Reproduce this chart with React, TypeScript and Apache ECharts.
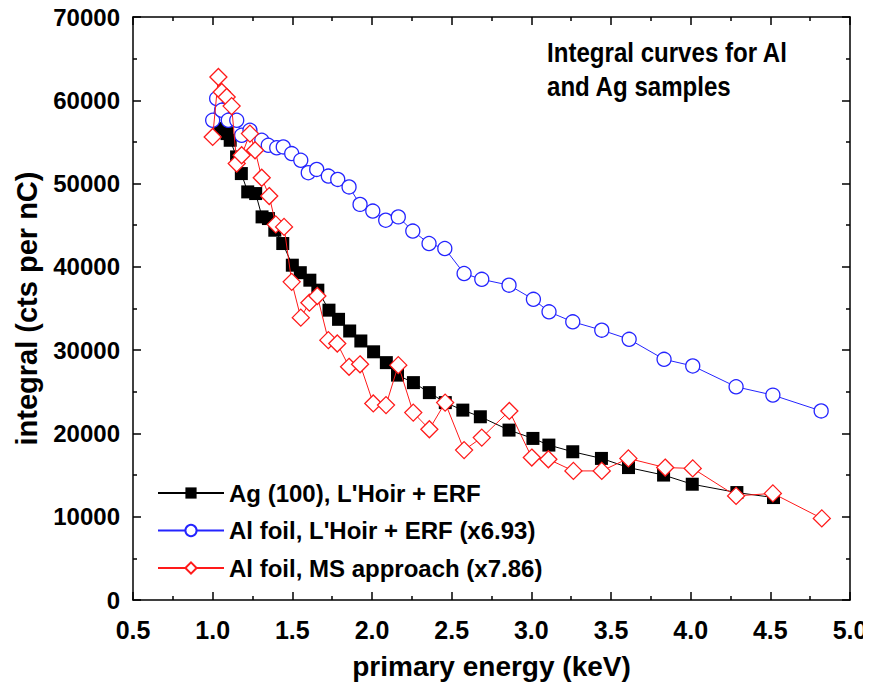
import React, { useEffect, useRef } from "react";
import * as echarts from "echarts";

const agX = [1.05, 1.09, 1.11, 1.15, 1.18, 1.22, 1.27, 1.31, 1.35, 1.39, 1.44, 1.50, 1.55, 1.61, 1.66, 1.73, 1.79, 1.86, 1.93, 2.01, 2.09, 2.16, 2.26, 2.36, 2.46, 2.57, 2.68, 2.86, 3.01, 3.11, 3.26, 3.44, 3.61, 3.83, 4.01, 4.29, 4.52];
const agY = [56600, 56000, 55200, 53200, 51200, 49000, 48800, 46000, 45800, 44400, 42800, 40200, 39300, 38400, 37200, 34800, 33700, 32300, 31100, 29800, 28500, 27000, 26100, 24900, 23700, 22800, 22000, 20400, 19400, 18600, 17800, 17000, 15900, 15000, 13900, 12900, 12300];

const alLX = [1.00, 1.025, 1.057, 1.098, 1.151, 1.182, 1.234, 1.308, 1.349, 1.402, 1.443, 1.496, 1.553, 1.600, 1.653, 1.726, 1.785, 1.856, 1.925, 2.005, 2.086, 2.165, 2.256, 2.358, 2.457, 2.578, 2.689, 2.860, 3.013, 3.111, 3.26, 3.442, 3.614, 3.833, 4.013, 4.285, 4.516, 4.819];
const alLY = [57600, 60200, 58800, 57600, 57600, 55800, 56400, 55200, 54600, 54300, 54400, 53600, 52800, 51300, 51700, 50900, 50500, 49600, 47500, 46700, 45600, 46000, 44300, 42800, 42200, 39200, 38500, 37800, 36100, 34600, 33400, 32400, 31300, 28900, 28100, 25600, 24600, 22700];

const alMX = [1.00, 1.036, 1.057, 1.088, 1.119, 1.151, 1.182, 1.234, 1.266, 1.308, 1.355, 1.396, 1.448, 1.496, 1.553, 1.607, 1.657, 1.726, 1.782, 1.856, 1.925, 2.008, 2.088, 2.165, 2.259, 2.360, 2.459, 2.578, 2.689, 2.862, 3.003, 3.107, 3.264, 3.442, 3.609, 3.840, 4.013, 4.285, 4.516, 4.823];
const alMY = [55600, 62800, 61000, 60400, 59300, 52400, 53400, 56000, 54000, 50700, 48500, 45100, 44800, 38200, 33900, 35700, 36500, 31200, 30800, 28000, 28300, 23600, 23400, 28200, 22500, 20500, 23700, 18000, 19500, 22700, 17100, 16900, 15500, 15500, 17000, 15900, 15800, 12500, 12800, 9800];

const seriesNames = [
  "Ag (100), L'Hoir + ERF",
  "Al foil, L'Hoir + ERF (x6.93)",
  "Al foil, MS approach (x7.86)",
];
const titleLines = ["Integral curves for Al", "and Ag samples"];
const xName = "primary energy (keV)";
const yName = "integral (cts per nC)";

const FONT = "'Liberation Sans', Arial, sans-serif";

function zip(xs: number[], ys: number[]) {
  return xs.map((x, i) => [x, ys[i]]);
}

export default function App() {
  const ref = useRef<HTMLDivElement>(null);
  useEffect(() => {
    if (!ref.current) return;
    const chart = echarts.init(ref.current, null, { renderer: "svg" });
    const axisLine = { show: true, onZero: false, lineStyle: { color: "#000", width: 1.5 } };
    const axisTick = { show: true, inside: true, length: 8, lineStyle: { color: "#000", width: 1.5 } };
    const minorTick = { show: true, splitNumber: 2, length: 4, lineStyle: { color: "#000", width: 1.5 } };
    const xBase = { type: "value", min: 0.5, max: 5.0, interval: 0.5, axisLine, axisTick, minorTick, splitLine: { show: false } };
    const yBase = { type: "value", min: 0, max: 70000, interval: 10000, axisLine, axisTick, minorTick, splitLine: { show: false } };
    chart.setOption({
      animation: false,
      backgroundColor: "#fff",
      textStyle: { fontFamily: FONT },
      grid: { left: 133, right: 21, top: 17, bottom: 91, containLabel: false },
      xAxis: [
        {
          ...xBase,
          position: "bottom",
          name: xName,
          nameLocation: "middle",
          nameGap: 52,
          nameTextStyle: { fontFamily: FONT, fontWeight: "bold", fontSize: 28, color: "#000" },
          axisLabel: {
            margin: 17,
            fontFamily: FONT,
            fontWeight: "bold",
            fontSize: 25,
            color: "#000",
            formatter: (v: number) => v.toFixed(1),
          },
        },
        { ...xBase, position: "top", axisLabel: { show: false } },
      ],
      yAxis: [
        {
          ...yBase,
          position: "left",
          name: yName,
          nameLocation: "middle",
          nameGap: 92,
          nameTextStyle: { fontFamily: FONT, fontWeight: "bold", fontSize: 29, color: "#000" },
          axisLabel: {
            margin: 13,
            fontFamily: FONT,
            fontWeight: "bold",
            fontSize: 24,
            color: "#000",
            formatter: (v: number) => String(v),
          },
        },
        { ...yBase, position: "right", axisLabel: { show: false } },
      ],
      legend: {
        orient: "vertical",
        left: 157,
        top: 481,
        padding: 0,
        itemWidth: 66,
        itemHeight: 14,
        itemGap: 13.5,
        textStyle: { fontFamily: FONT, fontWeight: "bold", fontSize: 24, color: "#000" },
        data: seriesNames,
      },
      graphic: [
        {
          type: "text",
          x: 547,
          y: 35,
          scaleX: 0.86,
          style: {
            text: titleLines.join("\n"),
            font: `bold 28px ${FONT}`,
            fill: "#000",
            lineHeight: 34,
          },
        },
      ],
      series: [
        {
          name: seriesNames[0],
          type: "line",
          data: zip(agX, agY),
          symbol: "rect",
          symbolSize: 13,
          itemStyle: { color: "#000" },
          lineStyle: { color: "#000", width: 1 },
          z: 2,
        },
        {
          name: seriesNames[1],
          type: "line",
          data: zip(alLX, alLY),
          symbol: "circle",
          symbolSize: 14,
          itemStyle: { color: "#fff", borderColor: "#2424ff", borderWidth: 1.3 },
          lineStyle: { color: "#2424ff", width: 1 },
          z: 3,
        },
        {
          name: seriesNames[2],
          type: "line",
          data: zip(alMX, alMY),
          symbol: "diamond",
          symbolSize: 17,
          itemStyle: { color: "#fff", borderColor: "#ff1a1a", borderWidth: 1.3 },
          lineStyle: { color: "#ff1a1a", width: 1 },
          z: 4,
        },
      ],
    });
    return () => chart.dispose();
  }, []);
  return <div ref={ref} style={{ width: 871, height: 691, margin: -8 }} />;
}
